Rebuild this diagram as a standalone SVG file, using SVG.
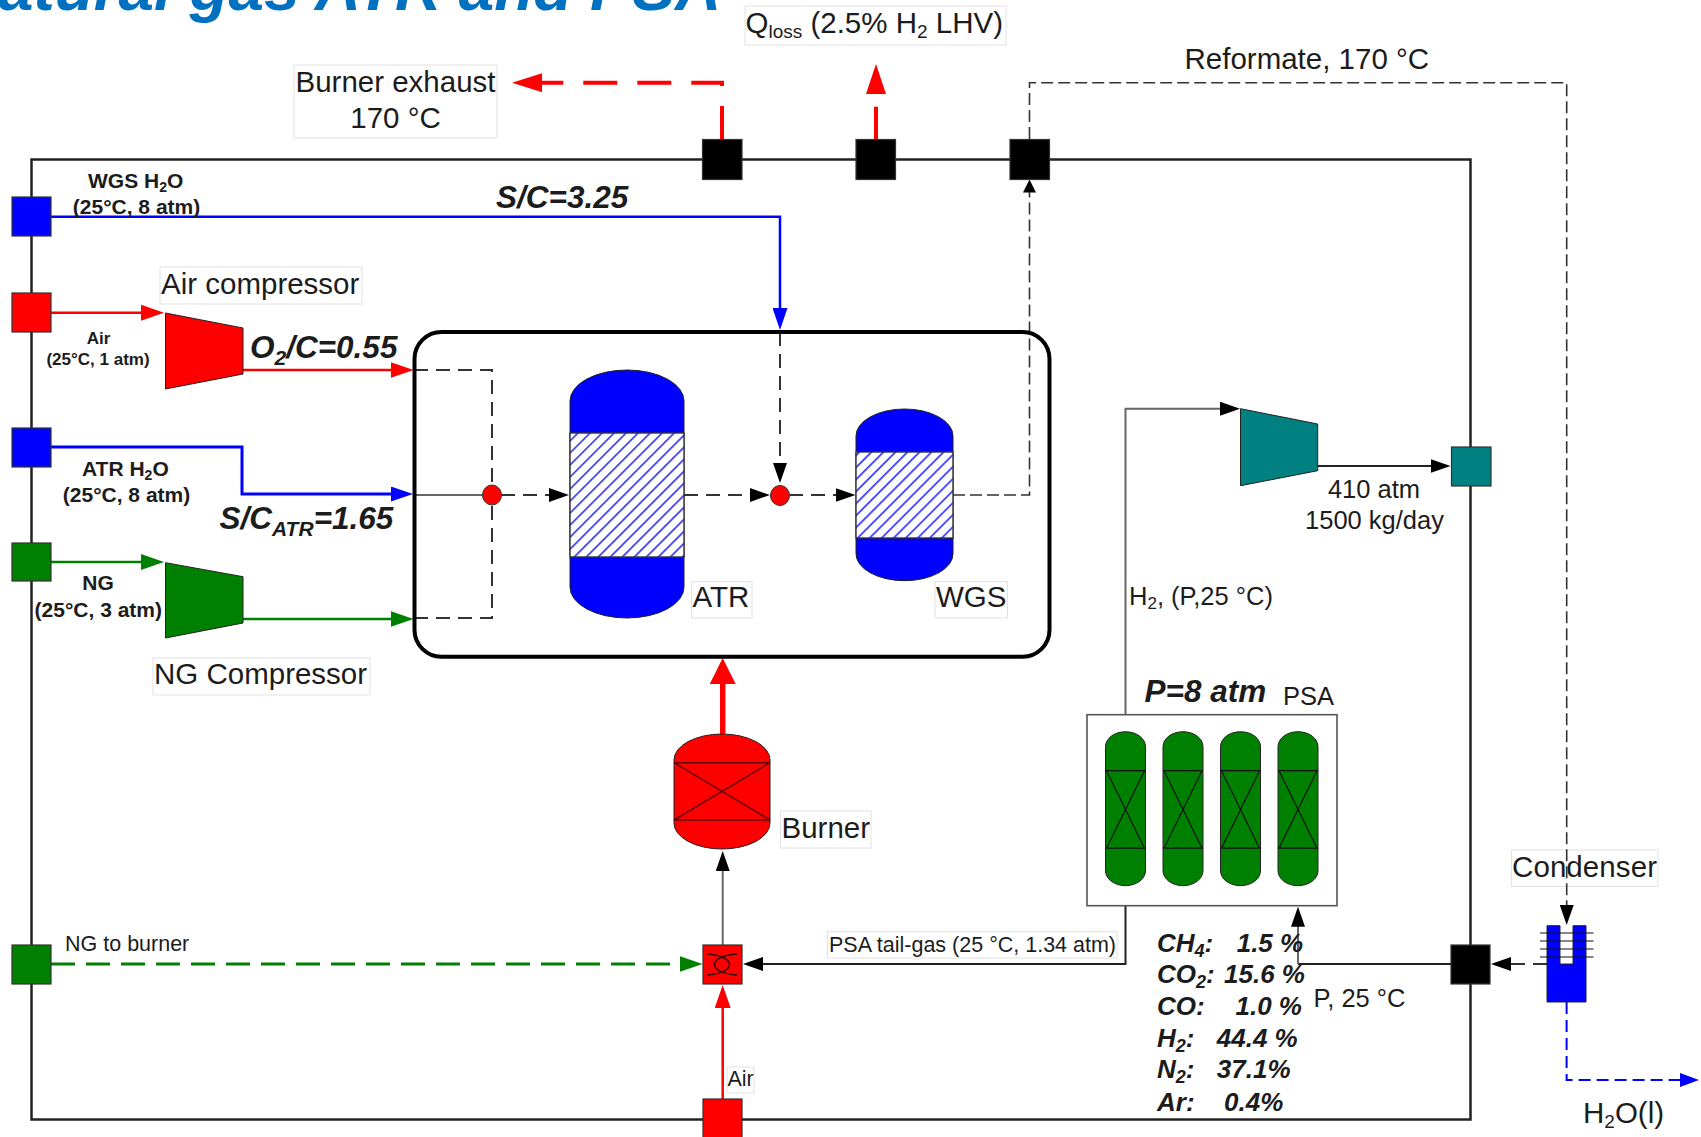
<svg xmlns="http://www.w3.org/2000/svg" width="1701" height="1137" viewBox="0 0 1701 1137">
<style>
text{font-family:"Liberation Sans",Arial,sans-serif;fill:#1c1c1c}
.t29{font-size:29.5px}.t25{font-size:25.5px}.t21{font-size:21.5px}
.b21{font-size:21px;font-weight:bold}.b17{font-size:17px;font-weight:bold}
.bi{font-size:31.5px;font-weight:bold;font-style:italic}
.bi26{font-size:26px;font-weight:bold;font-style:italic}
.m{text-anchor:middle}
.lbl{fill:#fff;stroke:#e2e2e2;stroke-width:1}
.port{stroke:#333;stroke-width:1.2}
.c{fill:none}
.bk{stroke:#222;stroke-width:2}
.gy{stroke:#666;stroke-width:2}
.ds{stroke:#333;stroke-width:2;stroke-dasharray:14 8}
.dt{stroke:#333;stroke-width:1.6;stroke-dasharray:12 5}
.ln{fill:none;stroke:#300;stroke-width:1.5}
</style>
<defs>
<marker id="ab" markerUnits="userSpaceOnUse" markerWidth="20" markerHeight="14" viewBox="0 0 20 14" refX="10" refY="7" orient="auto"><path d="M0 0L20 7L0 14Z" fill="#000"/></marker>
<marker id="as" markerUnits="userSpaceOnUse" markerWidth="13" markerHeight="13" viewBox="0 0 13 13" refX="6.5" refY="6.5" orient="auto"><path d="M0 0L13 6.5L0 13Z" fill="#000"/></marker>
<marker id="ar" markerUnits="userSpaceOnUse" markerWidth="23" markerHeight="16" viewBox="0 0 23 16" refX="11.5" refY="8" orient="auto"><path d="M0 0L23 8L0 16Z" fill="#f00"/></marker>
<marker id="ag" markerUnits="userSpaceOnUse" markerWidth="23" markerHeight="16" viewBox="0 0 23 16" refX="11.5" refY="8" orient="auto"><path d="M0 0L23 8L0 16Z" fill="#008000"/></marker>
<marker id="au" markerUnits="userSpaceOnUse" markerWidth="22" markerHeight="15" viewBox="0 0 22 15" refX="11" refY="7.5" orient="auto"><path d="M0 0L22 7.5L0 15Z" fill="#00f"/></marker>
<marker id="aR" markerUnits="userSpaceOnUse" markerWidth="26" markerHeight="26" viewBox="0 0 26 26" refX="13" refY="13" orient="auto"><path d="M0 0L26 13L0 26Z" fill="#f00"/></marker>
<marker id="aX" markerUnits="userSpaceOnUse" markerWidth="30" markerHeight="19" viewBox="0 0 30 19" refX="15" refY="9.5" orient="auto"><path d="M0 0L30 9.5L0 19Z" fill="#f00"/></marker>
<pattern id="hatch" patternUnits="userSpaceOnUse" width="8.5" height="8.5" patternTransform="rotate(45)"><rect width="8.5" height="8.5" fill="#fff"/><rect width="1.7" height="8.5" fill="#3c3cf0"/></pattern>
<g id="psacol"><path d="M0 15A20 15 0 0 1 40 15V139A20 15 0 0 1 0 139Z" fill="#008000" stroke="#222" stroke-width="1"/><path d="M0 39H40M0 116.500H40M1 39L39 116.500M39 39L1 116.500" fill="none" stroke="#111" stroke-width="1.200"/></g>
</defs>

<g id="frame"><rect x="31.500" y="159.500" width="1439" height="960" fill="none" stroke="#222" stroke-width="2.500"/></g>

<g id="condenser-label"><rect class="lbl" x="1511.500" y="850" width="146.500" height="36.500"/><text class="t29" x="1512" y="877" textLength="145">Condenser</text></g>

<g id="connectors">
<path class="c" stroke="#00f" stroke-width="2.500" d="M51 216.700H780V319" marker-end="url(#au)"/>
<path class="c" stroke="#f00" stroke-width="2.500" d="M51 312.700H152.500" marker-end="url(#ar)"/>
<path class="c" stroke="#f00" stroke-width="2.500" d="M242 370H402" marker-end="url(#ar)"/>
<path class="c" stroke="#00f" stroke-width="3" d="M51 447H242V494H402" marker-end="url(#au)"/>
<path class="c" stroke="#008000" stroke-width="2.500" d="M51 562H152.500" marker-end="url(#ag)"/>
<path class="c" stroke="#008000" stroke-width="2.500" d="M242 619H402" marker-end="url(#ag)"/>
<path class="c gy" d="M414 495H482"/>
<path class="c ds" d="M414 370H492V485"/>
<path class="c ds" d="M414 618H492V505"/>
<path class="c ds" d="M501 495H559" marker-end="url(#ab)"/>
<path class="c ds" d="M684 495H760" marker-end="url(#ab)"/>
<path class="c ds" d="M789 495H845.500" marker-end="url(#ab)"/>
<path class="c ds" d="M780 332V473" marker-end="url(#ab)"/>
<path class="c dt" d="M953 495H1029.500V186" marker-end="url(#as)"/>
<path class="c dt" d="M1029.500 139V82.700H1566.700V915" marker-end="url(#ab)"/>
<path class="c ds" d="M1547 964H1501" marker-end="url(#ab)"/>
<path class="c bk" d="M1451 964H1298"/>
<path class="c gy" d="M1298 964V916.700" marker-end="url(#ab)"/>
<path class="c" stroke="#00f" stroke-width="2" stroke-dasharray="12 6" d="M1566.600 1002V1080H1682"/>
<path d="M1680 1073L1699 1080L1680 1087Z" fill="#00f"/>
<path class="c gy" d="M1125.500 715V408.700H1230" marker-end="url(#ab)"/>
<path class="c bk" d="M1125.500 906V964H753" marker-end="url(#ab)"/>
<path class="c bk" d="M1317.700 466H1440.500" marker-end="url(#ab)"/>
<path class="c gy" d="M722.700 945V861" marker-end="url(#ab)"/>
<path class="c" stroke="#f00" stroke-width="2.500" d="M722.700 1099V996.500" marker-end="url(#ar)"/>
<path class="c" stroke="#008000" stroke-width="3" stroke-dasharray="24 11" d="M51 964H691" marker-end="url(#ag)"/>
<path class="c" stroke="#f00" stroke-width="5.500" d="M722.700 734V671" marker-end="url(#aR)"/>
<path class="c" stroke="#f00" stroke-width="4" stroke-dasharray="34 20" d="M722 140V82.700H527" marker-end="url(#aX)"/>
<path class="c" stroke="#f00" stroke-width="4" d="M876 140V106.700"/>
<path d="M866 94L876 64L886 94Z" fill="#f00"/>
</g>

<g id="title"><text x="-2" y="10" font-size="63.800" font-weight="bold" font-style="italic" style="fill:#0070c0">atural gas ATR and PSA</text></g>

<g id="ports">
<rect class="port" x="702.500" y="139.500" width="39.500" height="40" fill="#000"/>
<rect class="port" x="856" y="139.500" width="39.500" height="40" fill="#000"/>
<rect class="port" x="1010" y="139.500" width="39.500" height="40" fill="#000"/>
<rect class="port" x="12" y="197" width="39" height="39" fill="#00f"/>
<rect class="port" x="12" y="293" width="39" height="39" fill="#f00"/>
<rect class="port" x="12" y="428" width="39" height="39" fill="#00f"/>
<rect class="port" x="12" y="543" width="39" height="38" fill="#008000"/>
<rect class="port" x="12" y="945" width="39" height="39" fill="#008000"/>
<rect class="port" x="703" y="1099" width="39" height="42" fill="#f00"/>
<rect class="port" x="1451.500" y="447" width="39.500" height="39" fill="#008080"/>
<rect class="port" x="1451" y="945" width="39" height="39" fill="#000"/>
</g>

<g id="reactor-box"><rect x="414.500" y="332" width="635" height="324.700" rx="27" ry="27" fill="none" stroke="#000" stroke-width="4"/></g>

<g id="air-compressor"><polygon points="165.500,313 243,328 243,374 165.500,389" fill="#f00" stroke="#222" stroke-width="1"/></g>
<g id="ng-compressor"><polygon points="165.500,562.700 243,576.700 243,623 165.500,638" fill="#008000" stroke="#222" stroke-width="1"/></g>
<g id="h2-compressor"><polygon points="1240.500,408.700 1317.700,424 1317.700,470.700 1240.500,485.700" fill="#008080" stroke="#222" stroke-width="1"/></g>

<g id="atr"><path d="M570 401A57 31 0 0 1 684 401V587A57 31 0 0 1 570 587Z" fill="#00f" stroke="#222" stroke-width="1"/><rect x="570" y="433" width="114" height="124" fill="url(#hatch)" stroke="#333" stroke-width="1.400"/></g>
<g id="wgs"><path d="M856 436A48.500 27 0 0 1 953 436V553.700A48.500 27 0 0 1 856 553.700Z" fill="#00f" stroke="#222" stroke-width="1"/><rect x="856" y="452" width="97" height="86" fill="url(#hatch)" stroke="#333" stroke-width="1.400"/></g>
<g id="mix-1"><ellipse cx="492" cy="495" rx="9.500" ry="10" fill="#f00" stroke="#333" stroke-width="1"/></g>
<g id="mix-2"><ellipse cx="780" cy="495.500" rx="9.500" ry="10" fill="#f00" stroke="#333" stroke-width="1"/></g>

<g id="burner"><path d="M674 760A48 26 0 0 1 770 760V823A48 26 0 0 1 674 823Z" fill="#f00" stroke="#222" stroke-width="1"/><path d="M674 762.700H770M674 820H770M674 762.700L770 820M770 762.700L674 820" fill="none" stroke="#600" stroke-width="1.500"/></g>
<g id="burner-mixer"><rect class="port" x="703" y="945" width="39" height="39" fill="#f00"/><path class="ln" d="M707 954C737 956 737 973 707 975M737 954C707 956 707 973 737 975"/></g>

<g id="psa"><rect x="1087" y="714.700" width="250" height="191" fill="#fff" stroke="#555" stroke-width="1.600"/>
<use href="#psacol" x="1105.500" y="731.700"/><use href="#psacol" x="1163" y="731.700"/><use href="#psacol" x="1220.500" y="731.700"/><use href="#psacol" x="1278" y="731.700"/></g>

<g id="condenser"><path d="M1547 925.700H1560V964H1573V925.700H1586V1002H1547Z" fill="#00f" stroke="#223" stroke-width="1"/><path d="M1540 933H1593.500M1540 941H1593.500M1540 949H1593.500M1540 957H1593.500" fill="none" stroke="#111" stroke-width="1.200"/></g>

<g id="labels">
<rect class="lbl" x="294" y="65" width="203" height="73"/>
<text class="t29 m" x="395.500" y="92">Burner exhaust</text><text class="t29 m" x="395.500" y="127.700">170 °C</text>
<rect class="lbl" x="745" y="6" width="261" height="39"/>
<text class="t29" x="745.500" y="33">Q<tspan font-size="19" dy="5">loss</tspan><tspan dy="-5"> (2.5% H</tspan><tspan font-size="19" dy="5">2</tspan><tspan dy="-5"> LHV)</tspan></text>
<text class="t29" x="1184.500" y="69">Reformate, 170 °C</text>
<text class="b21" x="88" y="188">WGS H<tspan font-size="14" dy="4">2</tspan><tspan dy="-4">O</tspan></text>
<text class="b21 m" x="136.500" y="214">(25°C, 8 atm)</text>
<text class="b17 m" x="98.500" y="344">Air</text><text class="b17 m" x="98" y="365">(25°C, 1 atm)</text>
<rect class="lbl" x="160" y="267" width="202" height="37"/><text class="t29" x="161" y="294">Air compressor</text>
<text class="bi" x="496" y="208">S/C=3.25</text>
<text class="bi" x="250" y="358">O<tspan font-size="21" dy="7">2</tspan><tspan dy="-7">/C=0.55</tspan></text>
<text class="bi" x="219.500" y="529">S/C<tspan font-size="21" dy="7">ATR</tspan><tspan dy="-7">=1.65</tspan></text>
<text class="b21" x="82" y="476">ATR H<tspan font-size="14" dy="4">2</tspan><tspan dy="-4">O</tspan></text>
<text class="b21 m" x="126.500" y="501.700">(25°C, 8 atm)</text>
<text class="b21 m" x="98" y="590">NG</text><text class="b21 m" x="98.300" y="616.700">(25°C, 3 atm)</text>
<rect class="lbl" x="153" y="658" width="217" height="37"/><text class="t29" x="154" y="684">NG Compressor</text>
<rect class="lbl" x="691.500" y="581.700" width="60.500" height="36.300"/><text class="t29" x="692.500" y="607">ATR</text>
<rect class="lbl" x="935" y="581.700" width="72.500" height="36.300"/><text class="t29" x="936" y="607">WGS</text>
<rect class="lbl" x="780.500" y="811" width="90.500" height="37"/><text class="t29" x="781.500" y="838">Burner</text>
<rect class="lbl" x="727" y="1067" width="27" height="26"/><text class="t21" x="727.500" y="1086">Air</text>
<rect class="lbl" x="827.500" y="931.700" width="289.500" height="26.300"/><text class="t21" x="829" y="951.700">PSA tail-gas (25 °C, 1.34 atm)</text>
<text class="t21" x="65" y="951">NG to burner</text>
<text class="t25" x="1129" y="605">H<tspan font-size="17" dy="4">2</tspan><tspan dy="-4">, (P,25 °C)</tspan></text>
<text class="t25 m" x="1374" y="498">410 atm</text><text class="t25 m" x="1374.500" y="529">1500 kg/day</text>
<text class="bi" x="1144.500" y="701.700">P=8 atm</text>
<text class="t25" x="1283" y="705">PSA</text>
<text class="bi26" x="1157" y="951.700">CH<tspan font-size="18" dy="5">4</tspan><tspan dy="-5">:</tspan><tspan x="1236.700">1.5 %</tspan></text>
<text class="bi26" x="1157" y="982.700">CO<tspan font-size="18" dy="5">2</tspan><tspan dy="-5">:</tspan><tspan x="1224">15.6 %</tspan></text>
<text class="bi26" x="1157" y="1015">CO:<tspan x="1235.500">1.0 %</tspan></text>
<text class="bi26" x="1157" y="1046.700">H<tspan font-size="18" dy="5">2</tspan><tspan dy="-5">:</tspan><tspan x="1216.800">44.4 %</tspan></text>
<text class="bi26" x="1157" y="1078">N<tspan font-size="18" dy="5">2</tspan><tspan dy="-5">:</tspan><tspan x="1216.800">37.1%</tspan></text>
<text class="bi26" x="1157" y="1110.700">Ar:<tspan x="1224">0.4%</tspan></text>
<text class="t25" x="1313.500" y="1007">P, 25 °C</text>
<text class="t29" x="1583" y="1123">H<tspan font-size="19" dy="5">2</tspan><tspan dy="-5">O(l)</tspan></text>
</g>
</svg>
